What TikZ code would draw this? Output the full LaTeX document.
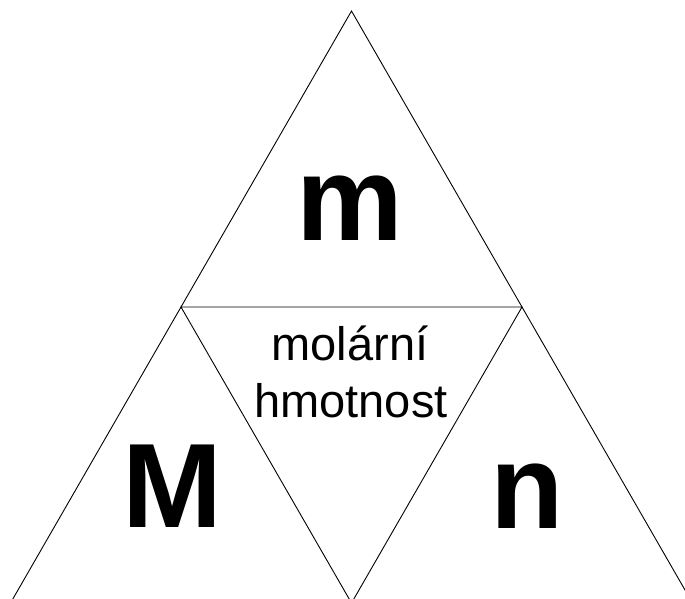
\documentclass[tikz,border=0pt]{standalone}
\usepackage{fontspec}
\setmainfont{Liberation Sans}
\begin{document}
\begin{tikzpicture}[x=1pt,y=-1pt,
  edge/.style={draw=black,line width=0.9pt},
  big/.style={font=\fontsize{120}{120}\selectfont\bfseries,inner sep=0pt,anchor=base},
  small/.style={font=\fontsize{47}{57}\selectfont,inner sep=0pt,align=center}]
\useasboundingbox (0,0) rectangle (685,598);
\clip (0,0) rectangle (685,598);
\coordinate (A) at (351.5,11);
\coordinate (L) at (10.5,603);
\coordinate (R) at (692.5,603);
\coordinate (ML) at (181,307);
\coordinate (MR) at (522,307);
\coordinate (MB) at (351.5,603);
\draw[edge] (L) -- (A) -- (R);
\draw[edge] (ML) -- (MR) -- (MB) -- cycle;
\node[big] (m) at (349.5,240) {m};
\node[big] (M) at (172.5,527) {M};
\node[big] (n) at (527,528) {n};
\node[small,anchor=base] (t1) at (350,360) {molární};
\node[small,anchor=base] (t2) at (351,417) {hmotnost};
\end{tikzpicture}
\end{document}
